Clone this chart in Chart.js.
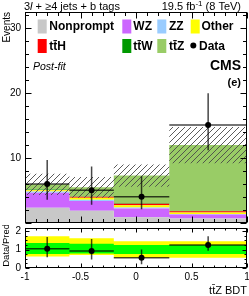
<!DOCTYPE html>
<html><head><meta charset="utf-8">
<script src="https://cdn.jsdelivr.net/npm/chart.js@4/dist/chart.umd.min.js"></script>
<style>
html,body{margin:0;padding:0;background:#fff;}
#wrap{position:relative;width:249px;height:296px;overflow:hidden;}
canvas{position:absolute;left:0;}
</style></head><body>
<div id="wrap">
<canvas id="main" width="249" height="225" style="top:0;width:249px;height:225px"></canvas>
<canvas id="ratio" width="249" height="71" style="top:225px;width:249px;height:71px"></canvas>
</div>
<script>
// ---------- data ----------
const binEdges = [-1, -0.6, -0.2, 0.3, 1];
const nonprompt = [2.35, 1.9, 0.9, 0.7];
const wz        = [2.3, 1.5, 1.35, 0.6];
const zz        = [0.2, 0.2, 0.15, 0.1];
const other     = [0.2, 0.3, 0.35, 0.2];
const tth       = [0.05, 0.15, 0.2, 0.2];
const ttw       = [0.05, 0.05, 0.1, 0.05];
const ttz       = [0.8, 1.4, 4.25, 10.15];
const uncLow    = [4.3, 3.9, 5.6, 9.2];
const uncHigh   = [7.6, 7.1, 9.0, 14.8];
const dataObs     = [6.0, 5.05, 4.05, 15.1];
const dataErrLow  = [3.6, 2.8, 2.1, 11.2];
const dataErrHigh = [9.7, 8.7, 7.2, 20.0];
const ratio        = [1.04, 0.92, 0.55, 1.25];
const ratioErrLow  = [0.58, 0.46, 0.2, 0.93];
const ratioErrHigh = [1.68, 1.58, 1.0, 1.72];
const greenLow  = [0.76, 0.78, 0.76, 0.76];
const greenHigh = [1.36, 1.32, 1.25, 1.25];
const yellowLow  = [0.62, 0.7, 0.55, 0.55];
const yellowHigh = [1.72, 1.62, 1.45, 1.45];
const mainYTicks = [10, 20, 30];
const ratioYTicks = [0, 1, 2];
const xTickValues = [-1, -0.5, 0, 0.5, 1];
const xTickLabels = ['-1', '-0.5', '0', '0.5', '1'];
const seriesNames = ['Nonprompt', 'WZ', 'ZZ', 'Other', 'tt\u0304H', 'tt\u0304W', 'tt\u0304Z'];

// ---------- helpers ----------
const FONT = 'Liberation Sans, Arial, Helvetica, sans-serif';
const colors = ['#c8c8c8', '#cc66ff', '#99ccff', '#ffff00', '#ff0000', '#009900', '#99cc66'];
const series = [nonprompt, wz, zz, other, tth, ttw, ttz];
function steps(vals) {
  const pts = vals.map((v, i) => ({x: binEdges[i], y: v}));
  pts.push({x: binEdges[vals.length], y: vals[vals.length - 1]});
  return pts;
}
const centers = binEdges.slice(0, -1).map((e, i) => (e + binEdges[i + 1]) / 2);

function makeHatch(ctx) {
  const c = document.createElement('canvas');
  c.width = 6; c.height = 6;
  const g = c.getContext('2d');
  g.strokeStyle = '#4a4a4a'; g.lineWidth = 0.9;
  g.beginPath();
  g.moveTo(0, 6); g.lineTo(6, 0);
  g.moveTo(-1, 1); g.lineTo(1, -1);
  g.moveTo(5, 7); g.lineTo(7, 5);
  g.stroke();
  return ctx.createPattern(c, 'repeat');
}

function noPad(s) { s.paddingTop = 0; s.paddingBottom = 0; s.paddingLeft = 0; s.paddingRight = 0; }

function framePlugin(id, yStepMinor, yStepMajor, ymax, majLen, minLen, yLabels) {
  return {
    id: id,
    afterDraw(chart) {
      const {ctx, chartArea: a, scales: {x, y}} = chart;
      ctx.save();
      ctx.strokeStyle = '#000'; ctx.lineWidth = 1;
      const L = Math.round(a.left) + 0.5, R = Math.round(a.right) - 0.5;
      const T = Math.round(a.top) + 0.5, B = Math.round(a.bottom) - 0.5;
      ctx.strokeRect(L, T, R - L, B - T);
      ctx.beginPath();
      for (let k = 0; k * yStepMinor <= ymax + 1e-9; k++) {
        const v = k * yStepMinor;
        const len = (Math.abs(v / yStepMajor - Math.round(v / yStepMajor)) < 1e-6) ? majLen : minLen;
        const py = Math.round(y.getPixelForValue(v)) + 0.5;
        ctx.moveTo(L, py); ctx.lineTo(L + len, py);
        ctx.moveTo(R, py); ctx.lineTo(R - len, py);
      }
      for (let k = 0; k <= 20; k++) {
        const v = -1 + k * 0.1;
        const len = (k % 5 === 0) ? majLen : minLen;
        const px = Math.round(x.getPixelForValue(v)) + 0.5;
        ctx.moveTo(px, B); ctx.lineTo(px, B - len);
        ctx.moveTo(px, T); ctx.lineTo(px, T + len);
      }
      ctx.stroke();
      // y tick labels placed through the y scale
      ctx.fillStyle = '#000';
      ctx.font = '10px ' + FONT;
      ctx.textAlign = 'right';
      ctx.textBaseline = 'middle';
      yLabels.forEach(v => ctx.fillText(String(v), a.left - 4, y.getPixelForValue(v)));
      ctx.restore();
    }
  };
}

function errorPlugin(id, vals, lo, hi) {
  return {
    id: id,
    afterDatasetsDraw(chart) {
      const {ctx, scales: {x, y}} = chart;
      ctx.save();
      ctx.strokeStyle = 'rgba(0,0,0,0.72)';
      ctx.lineWidth = 1.5;
      ctx.beginPath();
      vals.forEach((v, i) => {
        const cx = x.getPixelForValue(centers[i]);
        const py = y.getPixelForValue(v);
        ctx.moveTo(cx, y.getPixelForValue(lo[i]));
        ctx.lineTo(cx, y.getPixelForValue(hi[i]));
        ctx.moveTo(x.getPixelForValue(binEdges[i]), py);
        ctx.lineTo(x.getPixelForValue(binEdges[i + 1]), py);
      });
      ctx.stroke();
      ctx.fillStyle = '#000';
      vals.forEach((v, i) => {
        ctx.beginPath();
        ctx.arc(x.getPixelForValue(centers[i]), y.getPixelForValue(v), 3, 0, Math.PI * 2);
        ctx.fill();
      });
      ctx.restore();
    }
  };
}

const textPlugin = {
  id: 'texts',
  afterDraw(chart) {
    const ctx = chart.ctx;
    ctx.save();
    ctx.fillStyle = '#000';
    ctx.textBaseline = 'middle';
    let xx = 24;
    const hy = 6.5;
    ctx.font = '11px ' + FONT; ctx.textAlign = 'left';
    ctx.fillText('3', xx, hy); xx += ctx.measureText('3').width;
    ctx.font = 'italic 11px ' + FONT;
    ctx.fillText('l', xx, hy); xx += ctx.measureText('l').width;
    ctx.font = '11px ' + FONT;
    ctx.fillText(' + \u22654 jets + b tags', xx, hy);
    const p1 = '19.5 fb', p2 = '-1', p3 = ' (8 TeV)';
    ctx.font = '11px ' + FONT; const w1 = ctx.measureText(p1).width, w3 = ctx.measureText(p3).width;
    ctx.font = '8px ' + FONT; const w2 = ctx.measureText(p2).width;
    let rx = 241 - (w1 + w2 + w3);
    ctx.font = '11px ' + FONT; ctx.fillText(p1, rx, hy); rx += w1;
    ctx.font = '8px ' + FONT; ctx.fillText(p2, rx, hy - 3); rx += w2;
    ctx.font = '11px ' + FONT; ctx.fillText(p3, rx, hy);
    const legendItems = [
      {s: 0, bx: 37.7, tx: 49.3, y: 26.5},
      {s: 1, bx: 122.3, tx: 133.3, y: 26.5},
      {s: 2, bx: 157.3, tx: 169, y: 26.5},
      {s: 3, bx: 190.7, tx: 201.5, y: 26.5},
      {s: 4, bx: 37.7, tx: 49.3, y: 46},
      {s: 5, bx: 122.3, tx: 133.3, y: 46},
      {s: 6, bx: 157.3, tx: 169, y: 46}
    ];
    ctx.font = 'bold 12px ' + FONT; ctx.textAlign = 'left';
    legendItems.forEach(it => {
      ctx.fillStyle = colors[it.s];
      ctx.fillRect(it.bx, it.y - 7, 9, 14);
      ctx.fillStyle = '#000';
      ctx.fillText(seriesNames[it.s], it.tx, it.y + 0.5);
    });
    ctx.beginPath(); ctx.arc(193.3, 45.5, 3, 0, Math.PI * 2); ctx.fill();
    ctx.fillText('Data', 199, 46.5);
    ctx.font = 'italic 10.5px ' + FONT;
    ctx.fillText('Post-fit', 33, 67);
    ctx.textAlign = 'right';
    ctx.font = 'bold 14px ' + FONT;
    ctx.fillText('CMS', 241, 66);
    ctx.font = 'bold 11px ' + FONT;
    ctx.fillText('(e)', 241, 83);
    ctx.restore();
  }
};

// ---------- main chart ----------
const mainCtx = document.getElementById('main').getContext('2d');
const hatch = makeHatch(mainCtx);
const mainDatasets = series.map((vals, i) => ({
  type: 'line', label: seriesNames[i], data: steps(vals), stepped: true,
  fill: i === 0 ? 'origin' : '-1', backgroundColor: colors[i],
  borderColor: 'rgba(0,0,0,0)', borderWidth: 0, pointRadius: 0, stack: 'bkg', order: 10
}));
const loIdx = mainDatasets.length;
mainDatasets.push({type: 'line', label: 'uncLow', data: steps(uncLow), stepped: true, fill: false,
  borderColor: 'rgba(0,0,0,0)', borderWidth: 0, pointRadius: 0, stack: 'ulo', order: 5});
mainDatasets.push({type: 'line', label: 'uncHigh', data: steps(uncHigh), stepped: true, fill: {target: loIdx},
  backgroundColor: hatch, borderColor: 'rgba(0,0,0,0)', borderWidth: 0, pointRadius: 0, stack: 'uhi', order: 5});

new Chart(mainCtx, {
  type: 'line',
  data: {datasets: mainDatasets},
  options: {
    responsive: false, animation: false, devicePixelRatio: 1,
    layout: {padding: {top: 12, right: 2, bottom: 2, left: 0}},
    plugins: {legend: {display: false}, tooltip: {enabled: false}},
    scales: {
      x: {type: 'linear', min: -1, max: 1, display: false},
      y: {
        type: 'linear', min: 0, max: 32.5, stacked: true,
        afterFit: s => { s.width = 25; noPad(s); },
        grid: {display: false, drawTicks: false}, border: {display: false},
        ticks: {display: false, stepSize: 10},
        title: {display: true, text: 'Events', align: 'end', color: '#000',
          font: {family: FONT, size: 10, lineHeight: 1}, padding: {top: 2, bottom: 0}}
      }
    }
  },
  plugins: [framePlugin('frameMain', 2, 10, 32.5, 6, 3.5, mainYTicks), errorPlugin('errMain', dataObs, dataErrLow, dataErrHigh), textPlugin]
});

// ---------- ratio chart ----------
const ratioCtx = document.getElementById('ratio').getContext('2d');
new Chart(ratioCtx, {
  type: 'line',
  data: {datasets: [
    {label: 'yLow', data: steps(yellowLow), stepped: true, fill: false, borderColor: 'rgba(0,0,0,0)', borderWidth: 0, pointRadius: 0, order: 10},
    {label: 'yHigh', data: steps(yellowHigh), stepped: true, fill: {target: 0}, backgroundColor: '#ffff00', borderColor: 'rgba(0,0,0,0)', borderWidth: 0, pointRadius: 0, order: 10},
    {label: 'gLow', data: steps(greenLow), stepped: true, fill: false, borderColor: 'rgba(0,0,0,0)', borderWidth: 0, pointRadius: 0, order: 8},
    {label: 'gHigh', data: steps(greenHigh), stepped: true, fill: {target: 2}, backgroundColor: '#00ff00', borderColor: 'rgba(0,0,0,0)', borderWidth: 0, pointRadius: 0, order: 8}
  ]},
  options: {
    responsive: false, animation: false, devicePixelRatio: 1,
    layout: {padding: {top: 3, right: 2, bottom: 0, left: 0}},
    plugins: {legend: {display: false}, tooltip: {enabled: false}},
    scales: {
      x: {
        type: 'linear', min: -1, max: 1, position: 'bottom',
        afterBuildTicks: s => { s.ticks = xTickValues.map(v => ({value: v})); },
        afterFit: s => { s.height = 28; noPad(s); },
        grid: {display: false, drawTicks: false}, border: {display: false},
        ticks: {color: '#000', font: {family: FONT, size: 10}, padding: 3, maxRotation: 0, autoSkip: false,
          callback: (v, i) => xTickLabels[i]},
        title: {display: true, text: 'tt\u0304Z BDT', align: 'end', color: '#000',
          font: {family: FONT, size: 11, lineHeight: 1}, padding: {top: 0, bottom: 0}}
      },
      y: {
        type: 'linear', min: 0, max: 2.17,
        afterFit: s => { s.width = 25; noPad(s); },
        grid: {display: false, drawTicks: false}, border: {display: false},
        ticks: {display: false, stepSize: 1},
        title: {display: true, text: '   Data/Pred.', align: 'center', color: '#000',
          font: {family: FONT, size: 9.5, lineHeight: 1}, padding: {top: 2, bottom: 0}}
      }
    }
  },
  plugins: [framePlugin('frameRatio', 0.25, 1, 2.17, 4, 2, ratioYTicks), errorPlugin('errRatio', ratio, ratioErrLow, ratioErrHigh)]
});
</script>
</body></html>
